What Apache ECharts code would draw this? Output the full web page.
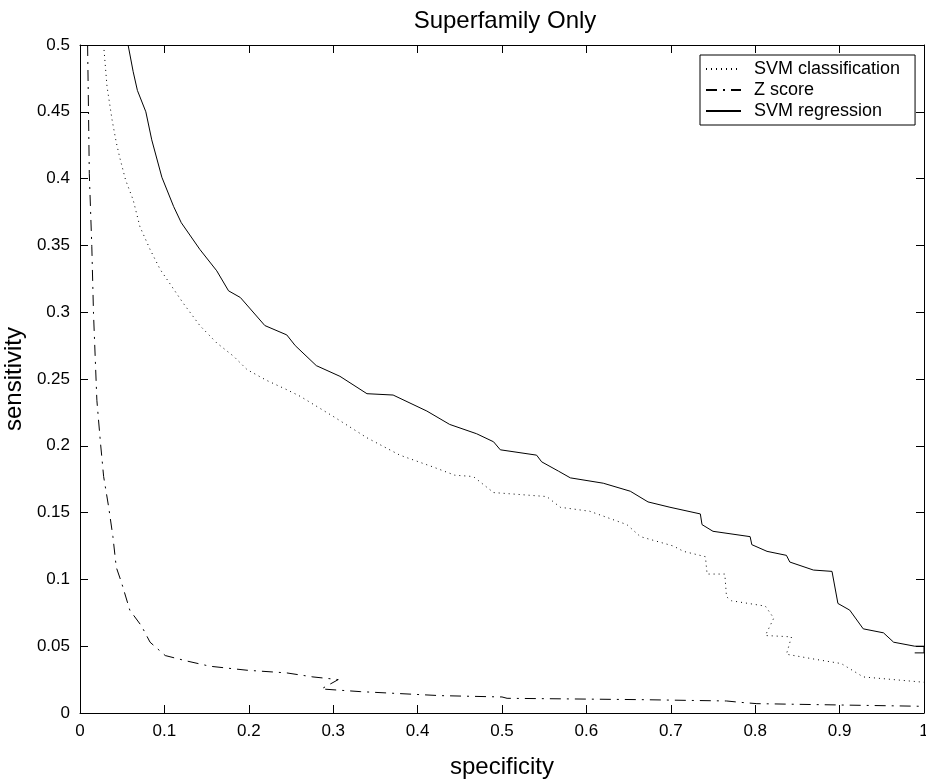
<!DOCTYPE html>
<html lang="en">
<head>
    <meta charset="UTF-8">
    <title>Superfamily Only</title>
    <script src="https://cdn.jsdelivr.net/npm/echarts@6/dist/echarts.min.js"></script>
    <style>
        html, body { margin: 0; padding: 0; background: #fff; }
        #main { width: 926px; height: 780px; }
    </style>
</head>
<body>
    <div id="main"></div>
    <script>
        // tick positions
        var xTicks = [0, 0.1, 0.2, 0.3, 0.4, 0.5, 0.6, 0.7, 0.8, 0.9, 1];
        var yTicks = [0, 0.05, 0.1, 0.15, 0.2, 0.25, 0.3, 0.35, 0.4, 0.45, 0.5];

        var seriesNames = ['SVM classification', 'Z score', 'SVM regression'];

        // [specificity, sensitivity]
        var svmClassification = [
            [0.028, 0.5], [0.032, 0.469], [0.038, 0.444], [0.043, 0.427], [0.047, 0.416],
            [0.054, 0.399], [0.063, 0.384], [0.071, 0.364], [0.083, 0.347], [0.095, 0.332],
            [0.108, 0.32], [0.122, 0.307], [0.142, 0.29], [0.162, 0.277], [0.182, 0.267],
            [0.198, 0.257], [0.221, 0.249], [0.245, 0.242], [0.261, 0.237], [0.3, 0.222],
            [0.34, 0.206], [0.379, 0.193], [0.419, 0.184], [0.444, 0.178], [0.466, 0.177],
            [0.49, 0.165], [0.553, 0.162], [0.569, 0.154], [0.604, 0.151], [0.648, 0.141],
            [0.664, 0.132], [0.703, 0.125], [0.715, 0.121], [0.741, 0.117], [0.743, 0.104],
            [0.764, 0.104], [0.766, 0.087], [0.772, 0.084], [0.812, 0.08], [0.822, 0.071],
            [0.812, 0.058], [0.843, 0.057], [0.837, 0.044], [0.873, 0.04], [0.902, 0.037],
            [0.928, 0.027], [1.0, 0.023]
        ];

        var zScore = [
            [0.009, 0.5], [0.01, 0.454], [0.011, 0.404], [0.014, 0.349], [0.016, 0.299],
            [0.02, 0.234], [0.024, 0.204], [0.028, 0.177], [0.034, 0.154], [0.039, 0.132],
            [0.043, 0.109], [0.049, 0.098], [0.059, 0.077], [0.073, 0.065], [0.083, 0.053],
            [0.101, 0.043], [0.126, 0.039], [0.154, 0.035], [0.198, 0.032], [0.245, 0.03],
            [0.276, 0.027], [0.306, 0.025], [0.286, 0.018], [0.332, 0.016], [0.427, 0.013],
            [0.5, 0.012], [0.506, 0.011], [0.664, 0.01], [0.766, 0.009], [0.782, 0.008],
            [0.802, 0.007], [0.9, 0.006], [1.0, 0.005]
        ];

        var svmRegression = [
            [0.057, 0.5], [0.063, 0.48], [0.068, 0.466], [0.078, 0.45], [0.085, 0.429],
            [0.097, 0.401], [0.111, 0.379], [0.12, 0.367], [0.142, 0.347], [0.162, 0.331],
            [0.176, 0.316], [0.19, 0.311], [0.219, 0.29], [0.245, 0.283], [0.255, 0.275],
            [0.28, 0.26], [0.308, 0.252], [0.34, 0.239], [0.371, 0.238], [0.411, 0.226],
            [0.438, 0.216], [0.47, 0.209], [0.49, 0.203], [0.498, 0.197], [0.541, 0.193],
            [0.547, 0.188], [0.567, 0.181], [0.581, 0.176], [0.62, 0.172], [0.652, 0.166],
            [0.673, 0.158], [0.699, 0.154], [0.735, 0.149], [0.737, 0.141], [0.75, 0.136],
            [0.794, 0.132], [0.796, 0.126], [0.814, 0.121], [0.837, 0.118], [0.841, 0.113],
            [0.869, 0.107], [0.891, 0.106], [0.898, 0.082], [0.912, 0.077], [0.928, 0.063],
            [0.952, 0.06], [0.964, 0.053], [0.989, 0.05], [1.0, 0.05], [1.0, 0.045],
            [0.989, 0.045]
        ];

        var font = 'Liberation Sans, Arial, Helvetica, sans-serif';

        function frameAxis(pos, ticks, showLabel) {
            return {
                type: 'value',
                position: pos,
                min: ticks[0],
                max: ticks[ticks.length - 1],
                interval: ticks[1] - ticks[0],
                axisLine: { show: true, onZero: false, lineStyle: { color: '#000', width: 1 } },
                axisTick: { show: true, inside: true, length: 8, lineStyle: { color: '#000' } },
                axisLabel: { show: showLabel, color: '#000', fontSize: 17, fontFamily: font, margin: 10 },
                splitLine: { show: false }
            };
        }

        var xBottom = frameAxis('bottom', xTicks, true);
        xBottom.name = 'specificity';
        xBottom.nameLocation = 'middle';
        xBottom.nameGap = 42;
        xBottom.nameTextStyle = { color: '#000', fontSize: 24, fontFamily: font };

        var yLeft = frameAxis('left', yTicks, true);
        yLeft.name = 'sensitivity';
        yLeft.nameLocation = 'middle';
        yLeft.nameGap = 41;
        yLeft.nameTextStyle = { color: '#000', fontSize: 24, fontFamily: font };

        var myChart = echarts.init(document.getElementById('main'));
        var option = {
            animation: false,
            backgroundColor: '#fff',
            title: {
                text: 'Superfamily Only',
                left: 500,
                textAlign: 'center',
                top: 4,
                textStyle: { color: '#000', fontSize: 24, fontWeight: 'normal', fontFamily: font }
            },
            legend: {
                data: seriesNames,
                orient: 'vertical',
                left: 700,
                top: 55,
                padding: [5, 15, 5, 5],
                itemWidth: 35,
                itemHeight: 14,
                itemGap: 3,
                borderColor: '#000',
                borderWidth: 1,
                backgroundColor: '#fff',
                itemStyle: { opacity: 0 },
                textStyle: { color: '#000', fontSize: 18, lineHeight: 18, fontFamily: font, padding: [0, 0, 0, 8] }
            },
            grid: { left: 80, right: 2, top: 45, bottom: 67, outerBoundsMode: 'none' },
            xAxis: [xBottom, frameAxis('top', xTicks, false)],
            yAxis: [yLeft, frameAxis('right', yTicks, false)],
            series: [
                {
                    name: seriesNames[0],
                    type: 'line',
                    data: svmClassification,
                    symbol: 'none',
                    lineStyle: { color: '#000', width: 1, type: [1, 4] },
                    itemStyle: { color: '#000' }
                },
                {
                    name: seriesNames[1],
                    type: 'line',
                    data: zScore,
                    symbol: 'none',
                    lineStyle: { color: '#000', width: 1, type: [11, 6, 2, 6] },
                    itemStyle: { color: '#000' }
                },
                {
                    name: seriesNames[2],
                    type: 'line',
                    data: svmRegression,
                    symbol: 'none',
                    lineStyle: { color: '#000', width: 1, type: 'solid' },
                    itemStyle: { color: '#000' }
                }
            ]
        };
        myChart.setOption(option);
    </script>
</body>
</html>
